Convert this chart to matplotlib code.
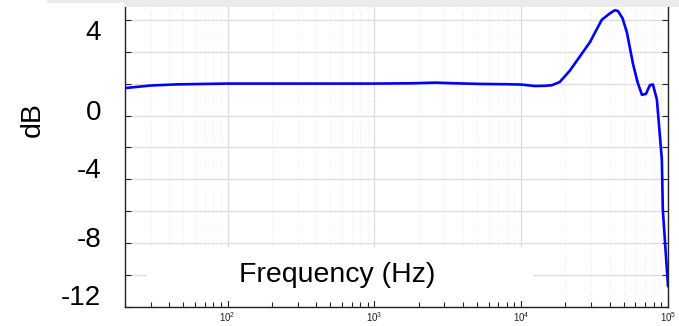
import numpy as np
import matplotlib
matplotlib.use("Agg")
import matplotlib.pyplot as plt
from matplotlib.patches import Rectangle
from matplotlib.ticker import LogLocator, NullFormatter, FixedLocator
import matplotlib.transforms as mtrans

plt.rcParams['font.family'] = ['Liberation Sans', 'DejaVu Sans']
plt.rcParams['mathtext.fontset'] = 'custom'
plt.rcParams['mathtext.rm'] = 'Liberation Sans'
plt.rcParams['mathtext.it'] = 'Liberation Sans:italic'
plt.rcParams['mathtext.bf'] = 'Liberation Sans:bold'

# Data (frequency in Hz, gain in dB)
freq_hz = [20, 30, 45, 70, 100, 200, 500, 1000, 1800, 2600, 3500, 5200, 8000,
           10000, 11500, 12300, 14500, 16200, 18300, 21400, 25100, 29400, 35400,
           40200, 43500, 45600, 49000, 52500, 57700, 62000, 66400, 70700, 75300,
           78900, 84000, 90800, 92200, 100000]
gain_db = [1.72, 1.88, 1.95, 1.98, 2.0, 2.0, 2.0, 2.0, 2.02, 2.06, 2.02, 1.98, 1.96,
           1.94, 1.88, 1.85, 1.86, 1.9, 2.1, 2.8, 3.7, 4.6, 6.0,
           6.4, 6.6, 6.55, 6.1, 5.2, 3.25, 2.1, 1.3, 1.35, 1.9,
           1.95, 1.0, -2.75, -5.9, -10.7]

ytick_labels = [4, 0, -4, -8, -12]
ytick_label_offsets_px = [19, 3, 8, 3, 9]   # reference labels sit slightly off their ticks
xlabel_text = "Frequency (Hz)"
ylabel_text = "dB"

W, H = 679, 326
fig = plt.figure(figsize=(W / 100, H / 100), dpi=100)
fig.patch.set_facecolor('white')
# top grey band and white left panel as in the reference
fig.patches.append(Rectangle((47 / W, 1 - 7 / H), 1 - 47 / W, 7 / H,
                             transform=fig.transFigure, facecolor='#ebebeb',
                             edgecolor='none', zorder=0))
fig.patches.append(Rectangle((0, 0), 124 / W, 1 - 3 / H,
                             transform=fig.transFigure, facecolor='white',
                             edgecolor='none', zorder=0.1))

ax = fig.add_axes([125 / W, (H - 307) / H, (668 - 125) / W, 300 / H])
ax.set_facecolor('white')
ax.set_axisbelow(True)

ax.plot(freq_hz, gain_db, color='#0000ff', lw=1.9, zorder=3,
        solid_joinstyle='round', solid_capstyle='round')

ax.set_xscale('log')
ax.set_xlim(20, 1e5)
ax.set_ylim(-12, 6.8)

ax.xaxis.set_major_locator(LogLocator(base=10, numticks=10))
ax.xaxis.set_minor_locator(LogLocator(base=10, subs=np.arange(2, 10), numticks=20))
ax.xaxis.set_minor_formatter(NullFormatter())
ax.yaxis.set_major_locator(FixedLocator(np.arange(-12, 7, 2)))
ax.set_yticklabels([])

ax.tick_params(axis='x', which='major', direction='in', length=5, width=0.8,
               labelsize=7, pad=2, colors='#222222')
ax.tick_params(axis='x', which='minor', direction='in', length=3.5, width=0.8, colors='#222222')
ax.tick_params(axis='y', which='major', direction='in', length=4, width=0.8,
               left=True, right=True, colors='#222222')

for s in ['left', 'right', 'bottom']:
    ax.spines[s].set_color('#222222')
    ax.spines[s].set_linewidth(1.0)
ax.spines['top'].set_visible(False)

ax.grid(True, which='major', axis='both', color='#dcdcdc', lw=0.9, ls='-')
ax.grid(True, which='minor', axis='x', color='#e2e2e2', lw=0.7, ls=(0, (1, 3)))

# white box with in-axes x label
ax.add_patch(Rectangle((0.0405, 0.02), 0.711, 0.18, transform=ax.transAxes,
                       facecolor='white', edgecolor='none', zorder=1))
ax.text(0.39, 0.105, xlabel_text, transform=ax.transAxes, ha='center', va='center',
        fontsize=20.5, color='black', zorder=2)

# y tick labels
trans = mtrans.blended_transform_factory(fig.transFigure, ax.transData)
for val, off in zip(ytick_labels, ytick_label_offsets_px):
    t = trans + mtrans.ScaledTranslation(0, off / 100, fig.dpi_scale_trans)
    fig.text(101 / W, val, str(val), transform=t, ha='right', va='center',
             fontsize=20, color='black')

fig.text(33 / W, 1 - 120 / H, ylabel_text, rotation=90, ha='center', va='center',
         fontsize=20.5, color='black')

fig.savefig('out.png', dpi=100, facecolor=fig.get_facecolor())
